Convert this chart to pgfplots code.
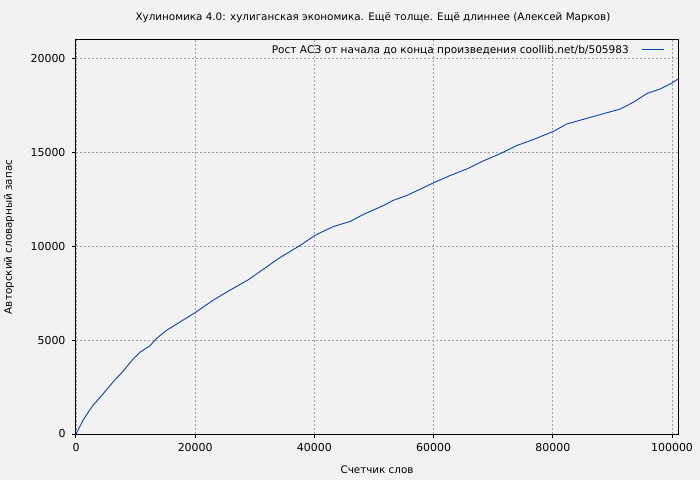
\documentclass[border=0pt]{standalone}
\usepackage{fontspec}
\setmainfont{DejaVu Sans}
\usepackage{pgfplots}
\pgfplotsset{compat=1.18}
\definecolor{bg}{HTML}{F2F2F2}
\definecolor{gridc}{HTML}{A0A0A0}
\definecolor{lineblue}{HTML}{0046B4}

\begin{document}
\begin{tikzpicture}
\fill[bg] (-76bp,-46bp) rectangle (624bp,434bp);
\node[font=\fontsize{10.4}{12}\selectfont, anchor=center] at (297bp,416bp)
  {Хулиномика 4.0: хулиганская экономика. Ещё толще. Ещё длиннее (Алексей Марков)};
\begin{axis}[
  scale only axis,
  width=602bp, height=394bp,
  at={(0,0)}, anchor=south west,
  xmin=0, xmax=101000, ymin=0, ymax=21000,
  xtick={0,20000,40000,60000,80000,100000},
  xticklabels={0,20000,40000,60000,80000,100000},
  ytick={0,5000,10000,15000,20000},
  yticklabels={0,5000,10000,15000,20000},
  scaled ticks=false,
  tick label style={font=\fontsize{11}{13}\selectfont},
  label style={font=\fontsize{10.4}{12}\selectfont},
  tick align=outside, tick pos=left,
  major tick length=4bp,
  axis line style={line width=1bp},
  every tick/.style={black, line width=1bp},
  grid=major,
  major grid style={gridc, dash pattern=on 2bp off 2bp, line width=0.8bp},
  xlabel={Счетчик слов},
  ylabel={Авторский словарный запас},
  xlabel style={at={(0.5,0)}, anchor=center, yshift=-36bp},
  ylabel style={at={(0,0.5)}, anchor=center, yshift=67bp},
  xticklabel style={yshift=-2bp},
  yticklabel style={xshift=-3bp},
  legend plot pos=right,
  legend cell align=right,
  legend style={at={(1,1)}, anchor=north east, xshift=-10bp, yshift=-1bp,
    draw=none, fill=none, font=\fontsize{10.6}{12}\selectfont},
  legend image code/.code={\draw[lineblue, line width=1bp] (0bp,0bp) -- (22bp,0bp);},
]
\addplot[lineblue, line width=0.9bp] coordinates {
  (0,0)
  (1200,740)
  (2100,1190)
  (2900,1540)
  (4600,2160)
  (6300,2800)
  (7900,3350)
  (9600,4000)
  (10700,4350)
  (12400,4700)
  (13500,5090)
  (15200,5530)
  (20000,6470)
  (23000,7130)
  (25800,7660)
  (28900,8220)
  (34200,9400)
  (37600,10050)
  (40100,10590)
  (43200,11060)
  (46000,11330)
  (48200,11700)
  (51600,12180)
  (53200,12450)
  (55500,12710)
  (60000,13390)
  (62800,13780)
  (65600,14130)
  (68300,14550)
  (71100,14930)
  (73900,15370)
  (76700,15690)
  (80100,16130)
  (82300,16520)
  (85100,16770)
  (87900,17020)
  (91300,17320)
  (93500,17680)
  (95800,18150)
  (98000,18390)
  (99900,18690)
  (101000,18920)
};
\addlegendentry{Рост АСЗ от начала до конца произведения coollib.net/b/505983\kern11bp}
\end{axis}
\end{tikzpicture}
\end{document}
